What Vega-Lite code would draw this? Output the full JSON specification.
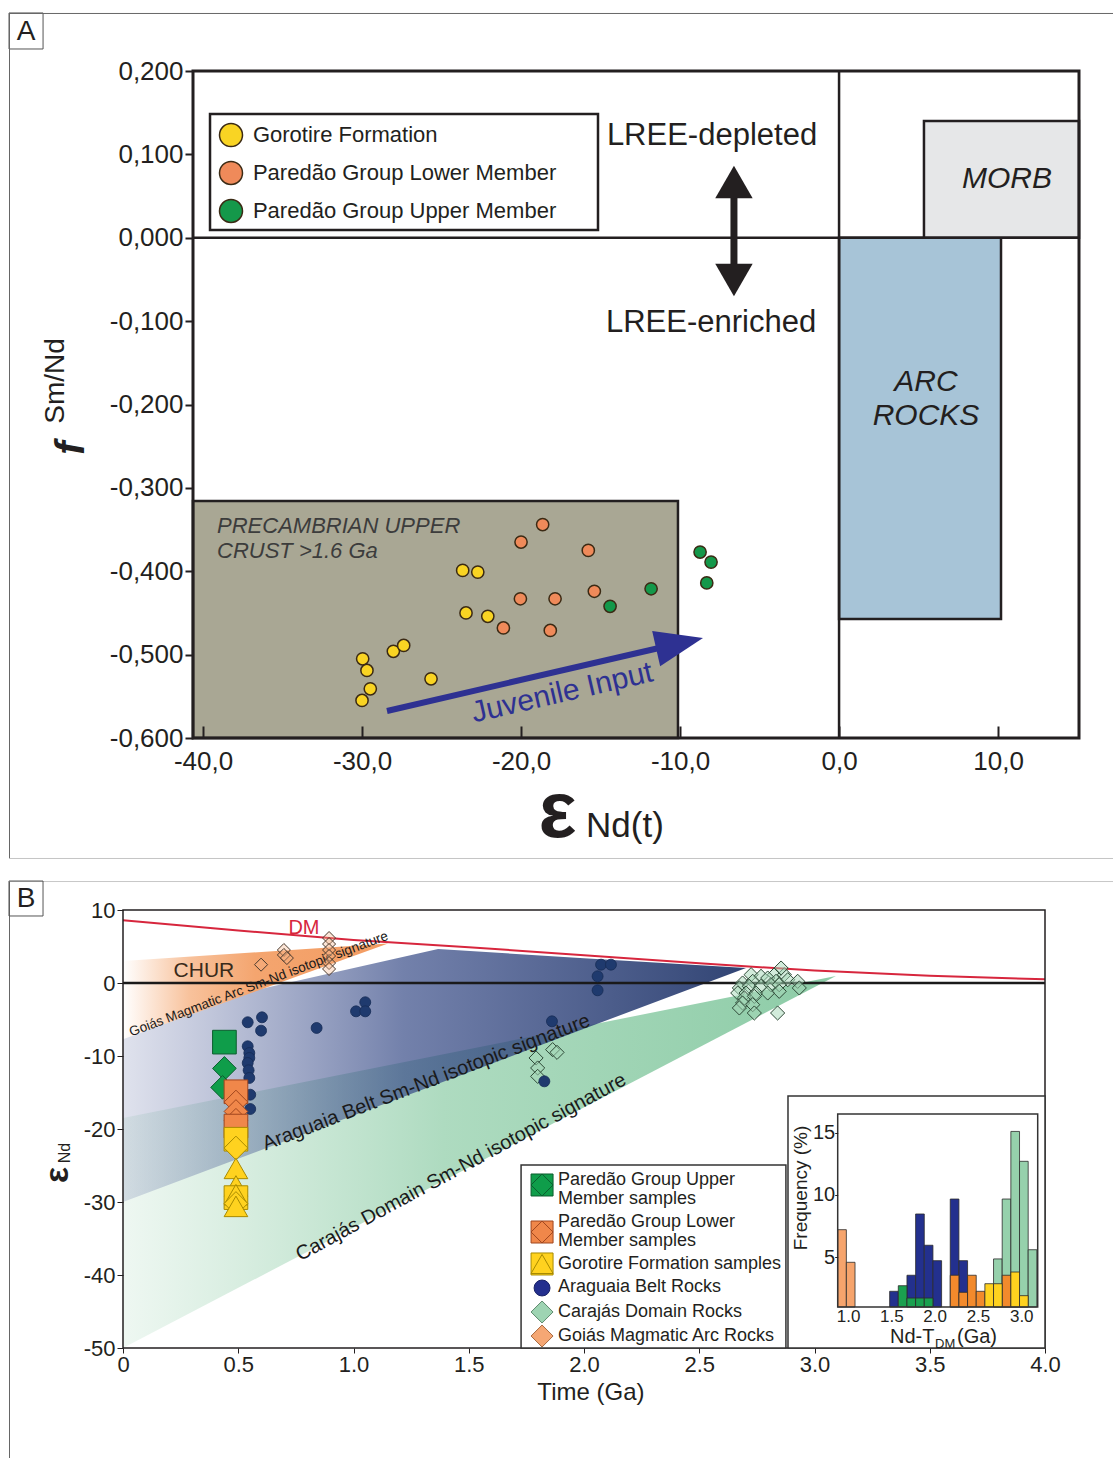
{
"$schema": "https://vega.github.io/schema/vega-lite/v6.json",
"padding": {"left": 8, "top": 12, "right": 0, "bottom": 0},
"autosize": {"type": "pad"},
"spacing": 20,
"background": "white",
"resolve": {"scale": {"color": "independent", "stroke": "independent", "shape": "independent", "fill": "independent"}},
"config": {"font": "Liberation Sans", "view": {"stroke": null}, "text": {"font": "Liberation Sans", "color": "#231F20"}, "axis": {"labelFont": "Liberation Sans", "labelFlush": false, "labelOverlap": false, "zindex": 1}},
"vconcat": [
{
"width": 1105, "height": 846,
"data": {"values": [{}]},
"layer": [
 {"mark": {"type": "rect", "fill": "#A9A794", "stroke": "#231F20", "strokeWidth": 2.5},
  "encoding": {
   "x": {"datum": -40.63, "type": "quantitative",
     "scale": {"domain": [-40.63, 15.09], "range": [184, 1070], "nice": false, "zero": false},
     "axis": {"orient": "bottom", "offset": -121, "zindex": 1, "values": [-40, -30, -20, -10, 0, 10], "domain": false, "grid": false, "tickSize": -12, "tickWidth": 2, "tickColor": "#231F20", "labelFontSize": 26, "labelColor": "#231F20", "labelPadding": 22, "labelExpr": "(datum.value < 0 ? '-' : '') + replace(format(abs(datum.value), '.1f'), '.', ',')", "title": null}},
   "x2": {"datum": -10.13},
   "y": {"datum": -0.6, "type": "quantitative",
     "scale": {"domain": [-0.6, 0.2], "range": [725, 58], "nice": false, "zero": false},
     "axis": {"orient": "left", "offset": -184, "zindex": 1, "values": [-0.6, -0.5, -0.4, -0.3, -0.2, -0.1, 0, 0.1, 0.2], "domain": false, "grid": false, "tickSize": 8, "tickWidth": 2, "tickColor": "#231F20", "labelFontSize": 26, "labelColor": "#231F20", "labelPadding": 2, "labelExpr": "(datum.value < 0 ? '-' : '') + replace(format(abs(datum.value), '.3f'), '.', ',')", "title": null}},
   "y2": {"datum": -0.3157}}},
 {"mark": {"type": "rect", "fill": "#A7C4D7", "stroke": "#231F20", "strokeWidth": 2.5},
  "encoding": {"x": {"datum": 0, "type": "quantitative"}, "x2": {"datum": 10.185}, "y": {"datum": -0.4573, "type": "quantitative"}, "y2": {"datum": 0}}},
 {"mark": {"type": "rect", "fill": "#E6E7E8", "stroke": "#231F20", "strokeWidth": 2.5},
  "encoding": {"x": {"datum": 5.34, "type": "quantitative"}, "x2": {"datum": 15.09}, "y": {"datum": 0, "type": "quantitative"}, "y2": {"datum": 0.14}}},
 {"mark": {"type": "rule", "stroke": "#231F20", "strokeWidth": 2.5},
  "encoding": {"x": {"datum": -40.63, "type": "quantitative"}, "x2": {"datum": 15.09}, "y": {"datum": 0, "type": "quantitative"}}},
 {"mark": {"type": "rule", "stroke": "#231F20", "strokeWidth": 2.5},
  "encoding": {"x": {"datum": 0, "type": "quantitative"}, "y": {"datum": -0.6, "type": "quantitative"}, "y2": {"datum": 0.2}}},
 {"mark": {"type": "rect", "filled": false, "stroke": "#231F20", "strokeWidth": 3},
  "encoding": {"x": {"datum": -40.63, "type": "quantitative"}, "x2": {"datum": 15.09}, "y": {"datum": -0.6, "type": "quantitative"}, "y2": {"datum": 0.2}}},
 {"mark": {"type": "rect", "fill": "white", "stroke": "#231F20", "strokeWidth": 2.5},
  "encoding": {"x": {"datum": -39.56, "type": "quantitative"}, "x2": {"datum": -15.16}, "y": {"datum": 0.0093, "type": "quantitative"}, "y2": {"datum": 0.1484}}},
 {"mark": {"type": "point", "shape": "circle", "filled": true, "size": 530, "fill": "#F9D423", "stroke": "#3B2A14", "strokeWidth": 1.5, "opacity": 1},
  "encoding": {"x": {"datum": -38.24, "type": "quantitative"}, "y": {"datum": 0.1232, "type": "quantitative"}}},
 {"mark": {"type": "point", "shape": "circle", "filled": true, "size": 530, "fill": "#EF8A5A", "stroke": "#3B2A14", "strokeWidth": 1.5, "opacity": 1},
  "encoding": {"x": {"datum": -38.24, "type": "quantitative"}, "y": {"datum": 0.0777, "type": "quantitative"}}},
 {"mark": {"type": "point", "shape": "circle", "filled": true, "size": 530, "fill": "#14984A", "stroke": "#3B2A14", "strokeWidth": 1.5, "opacity": 1},
  "encoding": {"x": {"datum": -38.24, "type": "quantitative"}, "y": {"datum": 0.0321, "type": "quantitative"}}},
 {"mark": {"type": "text", "text": "Gorotire Formation", "fontSize": 22, "align": "left", "baseline": "middle"},
  "encoding": {"x": {"datum": -36.86, "type": "quantitative"}, "y": {"datum": 0.1232, "type": "quantitative"}}},
 {"mark": {"type": "text", "text": "Paredão Group Lower Member", "fontSize": 22, "align": "left", "baseline": "middle"},
  "encoding": {"x": {"datum": -36.86, "type": "quantitative"}, "y": {"datum": 0.0777, "type": "quantitative"}}},
 {"mark": {"type": "text", "text": "Paredão Group Upper Member", "fontSize": 22, "align": "left", "baseline": "middle"},
  "encoding": {"x": {"datum": -36.86, "type": "quantitative"}, "y": {"datum": 0.0321, "type": "quantitative"}}},
 {"data": {"values": [
   {"eNd": -29.96, "fSmNd": -0.505, "g": "Gorotire Formation"},
   {"eNd": -29.69, "fSmNd": -0.519, "g": "Gorotire Formation"},
   {"eNd": -29.48, "fSmNd": -0.541, "g": "Gorotire Formation"},
   {"eNd": -30.0, "fSmNd": -0.555, "g": "Gorotire Formation"},
   {"eNd": -28.03, "fSmNd": -0.496, "g": "Gorotire Formation"},
   {"eNd": -27.38, "fSmNd": -0.489, "g": "Gorotire Formation"},
   {"eNd": -25.66, "fSmNd": -0.529, "g": "Gorotire Formation"},
   {"eNd": -23.67, "fSmNd": -0.399, "g": "Gorotire Formation"},
   {"eNd": -22.72, "fSmNd": -0.401, "g": "Gorotire Formation"},
   {"eNd": -23.46, "fSmNd": -0.45, "g": "Gorotire Formation"},
   {"eNd": -22.09, "fSmNd": -0.454, "g": "Gorotire Formation"},
   {"eNd": -18.64, "fSmNd": -0.344, "g": "Paredão Group Lower Member"},
   {"eNd": -20.0, "fSmNd": -0.365, "g": "Paredão Group Lower Member"},
   {"eNd": -15.77, "fSmNd": -0.375, "g": "Paredão Group Lower Member"},
   {"eNd": -20.04, "fSmNd": -0.433, "g": "Paredão Group Lower Member"},
   {"eNd": -17.86, "fSmNd": -0.433, "g": "Paredão Group Lower Member"},
   {"eNd": -15.39, "fSmNd": -0.424, "g": "Paredão Group Lower Member"},
   {"eNd": -21.11, "fSmNd": -0.468, "g": "Paredão Group Lower Member"},
   {"eNd": -18.16, "fSmNd": -0.471, "g": "Paredão Group Lower Member"},
   {"eNd": -11.82, "fSmNd": -0.421, "g": "Paredão Group Upper Member"},
   {"eNd": -14.4, "fSmNd": -0.442, "g": "Paredão Group Upper Member"},
   {"eNd": -8.74, "fSmNd": -0.377, "g": "Paredão Group Upper Member"},
   {"eNd": -8.05, "fSmNd": -0.389, "g": "Paredão Group Upper Member"},
   {"eNd": -8.32, "fSmNd": -0.414, "g": "Paredão Group Upper Member"}]},
  "mark": {"type": "point", "shape": "circle", "filled": true, "size": 150, "stroke": "#3B2A14", "strokeWidth": 1.5, "opacity": 1},
  "encoding": {
   "x": {"field": "eNd", "type": "quantitative", "title": null},
   "y": {"field": "fSmNd", "type": "quantitative", "title": null},
   "color": {"field": "g", "type": "nominal", "legend": null, "scale": {"domain": ["Gorotire Formation", "Paredão Group Lower Member", "Paredão Group Upper Member"], "range": ["#F9D423", "#EF8A5A", "#14984A"]}}}},
 {"mark": {"type": "text", "text": "LREE-depleted", "fontSize": 31, "align": "center", "baseline": "middle"},
  "encoding": {"x": {"datum": -7.99, "type": "quantitative"}, "y": {"datum": 0.122, "type": "quantitative"}}},
 {"mark": {"type": "text", "text": "LREE-enriched", "fontSize": 31, "align": "center", "baseline": "middle"},
  "encoding": {"x": {"datum": -8.05, "type": "quantitative"}, "y": {"datum": -0.1023, "type": "quantitative"}}},
 {"mark": {"type": "rule", "stroke": "#231F20", "strokeWidth": 7},
  "encoding": {"x": {"datum": -6.61, "type": "quantitative"}, "y": {"datum": 0.056, "type": "quantitative"}, "y2": {"datum": -0.04}}},
 {"mark": {"type": "point", "shape": "triangle-up", "filled": true, "size": 1400, "fill": "#231F20", "opacity": 1},
  "encoding": {"x": {"datum": -6.61, "type": "quantitative"}, "y": {"datum": 0.0669, "type": "quantitative"}}},
 {"mark": {"type": "point", "shape": "triangle-down", "filled": true, "size": 1400, "fill": "#231F20", "opacity": 1},
  "encoding": {"x": {"datum": -6.61, "type": "quantitative"}, "y": {"datum": -0.0507, "type": "quantitative"}}},
 {"mark": {"type": "text", "text": "MORB", "fontSize": 30, "fontStyle": "italic", "align": "center", "baseline": "middle"},
  "encoding": {"x": {"datum": 10.56, "type": "quantitative"}, "y": {"datum": 0.0705, "type": "quantitative"}}},
 {"mark": {"type": "text", "text": "ARC", "fontSize": 30, "fontStyle": "italic", "align": "center", "baseline": "middle"},
  "encoding": {"x": {"datum": 5.47, "type": "quantitative"}, "y": {"datum": -0.173, "type": "quantitative"}}},
 {"mark": {"type": "text", "text": "ROCKS", "fontSize": 30, "fontStyle": "italic", "align": "center", "baseline": "middle"},
  "encoding": {"x": {"datum": 5.47, "type": "quantitative"}, "y": {"datum": -0.2138, "type": "quantitative"}}},
 {"mark": {"type": "text", "text": "PRECAMBRIAN UPPER", "fontSize": 22, "fontStyle": "italic", "align": "left", "baseline": "middle", "color": "#3C3C3C"},
  "encoding": {"x": {"datum": -39.12, "type": "quantitative"}, "y": {"datum": -0.3457, "type": "quantitative"}}},
 {"mark": {"type": "text", "text": "CRUST >1.6 Ga", "fontSize": 22, "fontStyle": "italic", "align": "left", "baseline": "middle", "color": "#3C3C3C"},
  "encoding": {"x": {"datum": -39.12, "type": "quantitative"}, "y": {"datum": -0.3757, "type": "quantitative"}}},
 {"mark": {"type": "rule", "stroke": "#2E3192", "strokeWidth": 6},
  "encoding": {"x": {"datum": -28.43, "type": "quantitative"}, "y": {"datum": -0.5676, "type": "quantitative"}, "x2": {"datum": -11.32}, "y2": {"datum": -0.492}}},
 {"mark": {"type": "point", "shape": "M1,0L-1,-0.75L-1,0.75Z", "filled": true, "size": 2304, "angle": 347.2, "fill": "#2E3192", "opacity": 1},
  "encoding": {"x": {"datum": -10.03, "type": "quantitative"}, "y": {"datum": -0.4864, "type": "quantitative"}}},
 {"mark": {"type": "text", "text": "Juvenile Input", "fontSize": 30, "angle": 347, "align": "center", "baseline": "middle", "color": "#2E3192"},
  "encoding": {"x": {"datum": -17.42, "type": "quantitative"}, "y": {"datum": -0.546, "type": "quantitative"}}},
 {"mark": {"type": "text", "text": "Sm/Nd", "fontSize": 28, "angle": 270, "align": "center", "baseline": "middle"},
  "encoding": {"x": {"datum": -49.25, "type": "quantitative"}, "y": {"datum": -0.1718, "type": "quantitative"}}},
 {"mark": {"type": "text", "text": "f", "fontSize": 40, "fontWeight": "bold", "fontStyle": "italic", "angle": 270, "align": "center", "baseline": "middle"},
  "encoding": {"x": {"datum": -48.24, "type": "quantitative"}, "y": {"datum": -0.2522, "type": "quantitative"}}},
 {"mark": {"type": "text", "text": "ε", "fontSize": 80, "fontWeight": "bold", "align": "center", "baseline": "alphabetic"},
  "encoding": {"x": {"datum": -17.71, "type": "quantitative"}, "y": {"datum": -0.7187, "type": "quantitative"}}},
 {"mark": {"type": "text", "text": "Nd(t)", "fontSize": 35, "align": "left", "baseline": "alphabetic"},
  "encoding": {"x": {"datum": -15.91, "type": "quantitative"}, "y": {"datum": -0.7187, "type": "quantitative"}}},
 {"mark": {"type": "rect", "filled": false, "stroke": "#555555", "strokeWidth": 1},
  "encoding": {"x": {"datum": -52.2, "type": "quantitative"}, "x2": {"datum": -50.06}, "y": {"datum": 0.2264, "type": "quantitative"}, "y2": {"datum": 0.2696}}},
 {"mark": {"type": "text", "text": "A", "fontSize": 28, "align": "center", "baseline": "middle"},
  "encoding": {"x": {"datum": -51.13, "type": "quantitative"}, "y": {"datum": 0.2468, "type": "quantitative"}}},
 {"mark": {"type": "rule", "stroke": "#666666", "strokeWidth": 1},
  "encoding": {"x": {"datum": -52.17, "type": "quantitative"}, "y": {"datum": 0.2696, "type": "quantitative"}, "y2": {"datum": -0.7451}}},
 {"mark": {"type": "rule", "stroke": "#666666", "strokeWidth": 1},
  "encoding": {"x": {"datum": -52.2, "type": "quantitative"}, "x2": {"datum": 17.3}, "y": {"datum": 0.269, "type": "quantitative"}}},
 {"mark": {"type": "rule", "stroke": "#C4C4C4", "strokeWidth": 1},
  "encoding": {"x": {"datum": -52.2, "type": "quantitative"}, "x2": {"datum": 17.3}, "y": {"datum": -0.7445, "type": "quantitative"}}}
]
},
{
"width": 1105, "height": 580,
"data": {"values": [{}]},
"resolve": {"scale": {"x": "independent", "y": "independent"}, "axis": {"x": "independent", "y": "independent"}},
"layer": [
 {"layer": [
  {"data": {"values": [{"t": 0, "hi": -18.5, "lo": -50}, {"t": 3.093, "hi": 0.96, "lo": 0.96}]},
   "mark": {"type": "area", "fill": {"gradient": "linear", "x1": 0, "y1": 0, "x2": 1, "y2": 0, "stops": [{"offset": 0, "color": "rgba(90,180,125,0.10)"}, {"offset": 0.45, "color": "rgba(75,175,115,0.45)"}, {"offset": 1, "color": "rgba(70,172,112,0.62)"}]}},
   "encoding": {
    "x": {"field": "t", "type": "quantitative", "title": null,
      "scale": {"domain": [0, 4], "range": [114, 1036], "nice": false, "zero": false},
      "axis": {"orient": "bottom", "offset": -113, "zindex": 1, "values": [0, 0.5, 1, 1.5, 2, 2.5, 3, 3.5, 4], "domain": false, "grid": false, "tickSize": 5, "tickColor": "#231F20", "labelFontSize": 22, "labelColor": "#231F20", "labelPadding": 1, "labelExpr": "datum.value == 0 ? '0' : format(datum.value, '.1f')", "title": null}},
    "y": {"field": "hi", "type": "quantitative", "title": null,
      "scale": {"domain": [-50, 10], "range": [467, 29], "nice": false, "zero": false},
      "axis": {"orient": "left", "offset": -114, "zindex": 1, "values": [-50, -40, -30, -20, -10, 0, 10], "domain": false, "grid": false, "tickSize": 6, "tickColor": "#231F20", "labelFontSize": 22, "labelColor": "#231F20", "labelPadding": 2, "labelExpr": "(datum.value < 0 ? '-' : '') + format(abs(datum.value), 'd')", "title": null}},
    "y2": {"field": "lo"}}},
  {"data": {"values": [{"t": 0, "hi": -5.1, "lo": -30}, {"t": 1.367, "hi": 4.66, "lo": -13.79}, {"t": 2.0, "hi": 3.4, "lo": -6.28}, {"t": 2.703, "hi": 2.05, "lo": 2.05}]},
   "mark": {"type": "area", "fill": {"gradient": "linear", "x1": 0, "y1": 0, "x2": 1, "y2": 0, "stops": [{"offset": 0, "color": "rgba(80,95,155,0.18)"}, {"offset": 0.45, "color": "rgba(55,75,135,0.7)"}, {"offset": 1, "color": "rgba(38,58,108,0.95)"}]}},
   "encoding": {"x": {"field": "t", "type": "quantitative", "title": null}, "y": {"field": "hi", "type": "quantitative", "title": null}, "y2": {"field": "lo"}}},
  {"data": {"values": [{"t": 0, "hi": 3.0, "lo": -7.7}, {"t": 1.15, "hi": 5.4, "lo": 5.4}]},
   "mark": {"type": "area", "fill": {"gradient": "linear", "x1": 0, "y1": 0, "x2": 1, "y2": 0, "stops": [{"offset": 0, "color": "#FFFFFF"}, {"offset": 0.25, "color": "#F8C29C"}, {"offset": 0.5, "color": "#F4A56F"}, {"offset": 1, "color": "#F39C62"}]}},
   "encoding": {"x": {"field": "t", "type": "quantitative", "title": null}, "y": {"field": "hi", "type": "quantitative", "title": null}, "y2": {"field": "lo"}}},
  {"data": {"values": [{"t": 0, "e": 8.6}, {"t": 0.5, "e": 7.2}, {"t": 1.0, "e": 5.9}, {"t": 1.5, "e": 4.9}, {"t": 2.0, "e": 3.8}, {"t": 2.5, "e": 2.7}, {"t": 3.0, "e": 1.7}, {"t": 3.5, "e": 1.0}, {"t": 4.0, "e": 0.5}]},
   "mark": {"type": "line", "stroke": "#D7263D", "strokeWidth": 2},
   "encoding": {"x": {"field": "t", "type": "quantitative", "title": null}, "y": {"field": "e", "type": "quantitative", "title": null}}},
  {"mark": {"type": "rule", "stroke": "#1A1A1A", "strokeWidth": 2.5},
   "encoding": {"x": {"datum": 0, "type": "quantitative"}, "x2": {"datum": 4}, "y": {"datum": 0, "type": "quantitative"}}},
  {"mark": {"type": "rect", "filled": false, "stroke": "#231F20", "strokeWidth": 1.5},
   "encoding": {"x": {"datum": 0, "type": "quantitative"}, "x2": {"datum": 4}, "y": {"datum": -50, "type": "quantitative"}, "y2": {"datum": 10}}},
  {"mark": {"type": "text", "text": "Goiás Magmatic Arc Sm-Nd isotopic signature", "fontSize": 13.5, "angle": 339.3, "align": "center", "baseline": "alphabetic", "color": "#1A1A1A"},
   "encoding": {"x": {"datum": 0.595, "type": "quantitative"}, "y": {"datum": -0.67, "type": "quantitative"}}},
  {"mark": {"type": "text", "text": "Araguaia Belt Sm-Nd isotopic signature", "fontSize": 20, "angle": 339, "align": "center", "baseline": "alphabetic", "color": "#1A1A1A"},
   "encoding": {"x": {"datum": 1.325, "type": "quantitative"}, "y": {"datum": -14.38, "type": "quantitative"}}},
  {"mark": {"type": "text", "text": "Carajás Domain Sm-Nd isotopic signature", "fontSize": 20, "angle": 331.5, "align": "center", "baseline": "alphabetic", "color": "#1A1A1A"},
   "encoding": {"x": {"datum": 1.479, "type": "quantitative"}, "y": {"datum": -25.96, "type": "quantitative"}}},
  {"mark": {"type": "text", "text": "DM", "fontSize": 20, "align": "center", "baseline": "middle", "color": "#D7263D"},
   "encoding": {"x": {"datum": 0.785, "type": "quantitative"}, "y": {"datum": 7.53, "type": "quantitative"}}},
  {"mark": {"type": "text", "text": "CHUR", "fontSize": 21, "align": "center", "baseline": "middle", "color": "#3A2A1A"},
   "encoding": {"x": {"datum": 0.351, "type": "quantitative"}, "y": {"datum": 1.64, "type": "quantitative"}}},
  {"data": {"values": [{"t": 0.599, "e": 2.51}, {"t": 0.698, "e": 4.52}, {"t": 0.698, "e": 3.84}, {"t": 0.711, "e": 3.42}, {"t": 0.894, "e": 6.16}, {"t": 0.894, "e": 5.34}, {"t": 0.894, "e": 4.52}, {"t": 0.894, "e": 3.7}, {"t": 0.894, "e": 2.74}, {"t": 0.894, "e": 1.92}]},
   "mark": {"type": "point", "shape": "diamond", "filled": true, "size": 170, "fill": "#F7B48A", "fillOpacity": 0.35, "stroke": "#4A3A2E", "strokeWidth": 1, "opacity": 1},
   "encoding": {"x": {"field": "t", "type": "quantitative", "title": null}, "y": {"field": "e", "type": "quantitative", "title": null}}},
  {"data": {"values": [
    {"t": 2.725, "e": 1.14}, {"t": 2.768, "e": 0.91}, {"t": 2.826, "e": 1.14}, {"t": 2.869, "e": 1.14}, {"t": 2.688, "e": 0},
    {"t": 2.732, "e": 0.23}, {"t": 2.797, "e": 0.68}, {"t": 2.833, "e": 0.23}, {"t": 2.884, "e": 0.45}, {"t": 2.927, "e": 0.23},
    {"t": 2.674, "e": -0.68}, {"t": 2.717, "e": -0.45}, {"t": 2.768, "e": -0.45}, {"t": 2.811, "e": -0.23}, {"t": 2.847, "e": -0.23},
    {"t": 2.934, "e": -0.68}, {"t": 2.667, "e": -1.37}, {"t": 2.703, "e": -1.37}, {"t": 2.746, "e": -1.37}, {"t": 2.797, "e": -1.37},
    {"t": 2.847, "e": -1.14}, {"t": 2.696, "e": -2.05}, {"t": 2.739, "e": -1.83}, {"t": 2.688, "e": -2.74}, {"t": 2.732, "e": -2.97},
    {"t": 2.674, "e": -3.42}, {"t": 2.739, "e": -4.11}, {"t": 2.84, "e": -4.11}, {"t": 2.855, "e": 2.05},
    {"t": 1.792, "e": -10.27}, {"t": 1.799, "e": -11.64}, {"t": 1.799, "e": -12.79}, {"t": 1.864, "e": -9.13}, {"t": 1.883, "e": -9.5}]},
   "mark": {"type": "point", "shape": "diamond", "filled": true, "size": 200, "fill": "#A5D8B8", "fillOpacity": 0.5, "stroke": "#2F4A38", "strokeWidth": 1, "opacity": 1},
   "encoding": {"x": {"field": "t", "type": "quantitative", "title": null}, "y": {"field": "e", "type": "quantitative", "title": null}}},
  {"data": {"values": [
    {"t": 0.541, "e": -5.38}, {"t": 0.603, "e": -4.7}, {"t": 0.599, "e": -6.53}, {"t": 0.541, "e": -8.67}, {"t": 0.548, "e": -9.59},
    {"t": 0.548, "e": -10.27}, {"t": 0.541, "e": -10.96}, {"t": 0.545, "e": -11.96}, {"t": 0.548, "e": -13.01}, {"t": 0.552, "e": -15.3},
    {"t": 0.552, "e": -17.26}, {"t": 0.84, "e": -6.16}, {"t": 1.011, "e": -3.88}, {"t": 1.051, "e": -2.64}, {"t": 1.051, "e": -3.88},
    {"t": 2.074, "e": 2.51}, {"t": 2.117, "e": 2.51}, {"t": 2.059, "e": 0.92}, {"t": 2.059, "e": -1.0}, {"t": 1.861, "e": -5.25}, {"t": 1.828, "e": -13.47}]},
   "mark": {"type": "point", "shape": "circle", "filled": true, "size": 120, "fill": "#1F3A6E", "stroke": "#172C55", "strokeWidth": 0.8, "opacity": 1},
   "encoding": {"x": {"field": "t", "type": "quantitative", "title": null}, "y": {"field": "e", "type": "quantitative", "title": null}}},
  {"data": {"values": [
    {"t": 0.44, "e": -8.1, "g": "Upper", "s": "square"}, {"t": 0.44, "e": -11.7, "g": "Upper", "s": "diamond"}, {"t": 0.432, "e": -14.3, "g": "Upper", "s": "diamond"},
    {"t": 0.49, "e": -14.9, "g": "Lower", "s": "square"}, {"t": 0.49, "e": -16.3, "g": "Lower", "s": "diamond"}, {"t": 0.49, "e": -17.6, "g": "Lower", "s": "diamond"},
    {"t": 0.49, "e": -18.8, "g": "Lower", "s": "diamond"}, {"t": 0.49, "e": -19.6, "g": "Lower", "s": "square"},
    {"t": 0.49, "e": -21.4, "g": "Gorotire", "s": "square"}, {"t": 0.49, "e": -22.6, "g": "Gorotire", "s": "diamond"}, {"t": 0.49, "e": -25.4, "g": "Gorotire", "s": "triangle-up"},
    {"t": 0.49, "e": -27.8, "g": "Gorotire", "s": "triangle-up"}, {"t": 0.49, "e": -29.4, "g": "Gorotire", "s": "square"}, {"t": 0.49, "e": -29.0, "g": "Gorotire", "s": "triangle-up"},
    {"t": 0.49, "e": -30.2, "g": "Gorotire", "s": "diamond"}, {"t": 0.49, "e": -30.6, "g": "Gorotire", "s": "triangle-up"}]},
   "mark": {"type": "point", "filled": true, "size": 560, "strokeWidth": 1, "opacity": 1},
   "encoding": {
    "x": {"field": "t", "type": "quantitative", "title": null},
    "y": {"field": "e", "type": "quantitative", "title": null},
    "color": {"field": "g", "type": "nominal", "legend": null, "scale": {"domain": ["Upper", "Lower", "Gorotire"], "range": ["#0F9D4A", "#F0874A", "#FFD21F"]}},
    "stroke": {"field": "g", "type": "nominal", "legend": null, "scale": {"domain": ["Upper", "Lower", "Gorotire"], "range": ["#0B5E2E", "#A0461E", "#A88A00"]}},
    "shape": {"field": "s", "type": "nominal", "legend": null, "scale": {"domain": ["square", "diamond", "triangle-up"], "range": ["square", "diamond", "triangle-up"]}}}},
  {"mark": {"type": "rect", "fill": "white", "stroke": "#333333", "strokeWidth": 1.5},
   "encoding": {"x": {"datum": 1.727, "type": "quantitative"}, "x2": {"datum": 2.876}, "y": {"datum": -50, "type": "quantitative"}, "y2": {"datum": -24.93}}},
  {"mark": {"type": "point", "shape": "square", "filled": true, "size": 484, "fill": "#0F9D4A", "stroke": "#0B5E2E", "strokeWidth": 1, "opacity": 1},
   "encoding": {"x": {"datum": 1.818, "type": "quantitative"}, "y": {"datum": -27.67, "type": "quantitative"}}},
  {"mark": {"type": "point", "shape": "diamond", "filled": true, "size": 484, "fill": "#0F9D4A", "stroke": "#0B5E2E", "strokeWidth": 1, "opacity": 1},
   "encoding": {"x": {"datum": 1.818, "type": "quantitative"}, "y": {"datum": -27.67, "type": "quantitative"}}},
  {"mark": {"type": "point", "shape": "square", "filled": true, "size": 484, "fill": "#F0874A", "stroke": "#A0461E", "strokeWidth": 1, "opacity": 1},
   "encoding": {"x": {"datum": 1.818, "type": "quantitative"}, "y": {"datum": -34.11, "type": "quantitative"}}},
  {"mark": {"type": "point", "shape": "diamond", "filled": true, "size": 484, "fill": "#F0874A", "stroke": "#A0461E", "strokeWidth": 1, "opacity": 1},
   "encoding": {"x": {"datum": 1.818, "type": "quantitative"}, "y": {"datum": -34.11, "type": "quantitative"}}},
  {"mark": {"type": "point", "shape": "square", "filled": true, "size": 484, "fill": "#FFD21F", "stroke": "#A88A00", "strokeWidth": 1, "opacity": 1},
   "encoding": {"x": {"datum": 1.818, "type": "quantitative"}, "y": {"datum": -38.49, "type": "quantitative"}}},
  {"mark": {"type": "point", "shape": "triangle-up", "filled": true, "size": 484, "fill": "#FFD21F", "stroke": "#A88A00", "strokeWidth": 1, "opacity": 1},
   "encoding": {"x": {"datum": 1.818, "type": "quantitative"}, "y": {"datum": -38.49, "type": "quantitative"}}},
  {"mark": {"type": "point", "shape": "circle", "filled": true, "size": 254, "fill": "#232F8E", "stroke": "#1A2366", "strokeWidth": 1, "opacity": 1},
   "encoding": {"x": {"datum": 1.818, "type": "quantitative"}, "y": {"datum": -41.78, "type": "quantitative"}}},
  {"mark": {"type": "point", "shape": "diamond", "filled": true, "size": 484, "fill": "#9ED4B3", "stroke": "#5E8A6E", "strokeWidth": 1, "opacity": 1},
   "encoding": {"x": {"datum": 1.818, "type": "quantitative"}, "y": {"datum": -45.07, "type": "quantitative"}}},
  {"mark": {"type": "point", "shape": "diamond", "filled": true, "size": 484, "fill": "#F5A774", "stroke": "#A86A40", "strokeWidth": 1, "opacity": 1},
   "encoding": {"x": {"datum": 1.818, "type": "quantitative"}, "y": {"datum": -48.36, "type": "quantitative"}}},
  {"mark": {"type": "text", "text": "Paredão Group Upper", "fontSize": 18, "align": "left", "baseline": "middle"},
   "encoding": {"x": {"datum": 1.887, "type": "quantitative"}, "y": {"datum": -26.95, "type": "quantitative"}}},
  {"mark": {"type": "text", "text": "Member samples", "fontSize": 18, "align": "left", "baseline": "middle"},
   "encoding": {"x": {"datum": 1.887, "type": "quantitative"}, "y": {"datum": -29.59, "type": "quantitative"}}},
  {"mark": {"type": "text", "text": "Paredão Group Lower", "fontSize": 18, "align": "left", "baseline": "middle"},
   "encoding": {"x": {"datum": 1.887, "type": "quantitative"}, "y": {"datum": -32.74, "type": "quantitative"}}},
  {"mark": {"type": "text", "text": "Member samples", "fontSize": 18, "align": "left", "baseline": "middle"},
   "encoding": {"x": {"datum": 1.887, "type": "quantitative"}, "y": {"datum": -35.34, "type": "quantitative"}}},
  {"mark": {"type": "text", "text": "Gorotire Formation samples", "fontSize": 18, "align": "left", "baseline": "middle"},
   "encoding": {"x": {"datum": 1.887, "type": "quantitative"}, "y": {"datum": -38.49, "type": "quantitative"}}},
  {"mark": {"type": "text", "text": "Araguaia Belt Rocks", "fontSize": 18, "align": "left", "baseline": "middle"},
   "encoding": {"x": {"datum": 1.887, "type": "quantitative"}, "y": {"datum": -41.64, "type": "quantitative"}}},
  {"mark": {"type": "text", "text": "Carajás Domain Rocks", "fontSize": 18, "align": "left", "baseline": "middle"},
   "encoding": {"x": {"datum": 1.887, "type": "quantitative"}, "y": {"datum": -45.07, "type": "quantitative"}}},
  {"mark": {"type": "text", "text": "Goiás Magmatic Arc Rocks", "fontSize": 18, "align": "left", "baseline": "middle"},
   "encoding": {"x": {"datum": 1.887, "type": "quantitative"}, "y": {"datum": -48.36, "type": "quantitative"}}},
  {"mark": {"type": "rect", "fill": "white", "stroke": "#333333", "strokeWidth": 1.5},
   "encoding": {"x": {"datum": 2.885, "type": "quantitative"}, "x2": {"datum": 4}, "y": {"datum": -50, "type": "quantitative"}, "y2": {"datum": -15.48}}},
  {"mark": {"type": "rule", "stroke": "#666666", "strokeWidth": 1},
   "encoding": {"x": {"datum": -0.4924, "type": "quantitative"}, "y": {"datum": 13.97, "type": "quantitative"}, "y2": {"datum": -65.5}}},
  {"mark": {"type": "rule", "stroke": "#C8C8C8", "strokeWidth": 1},
   "encoding": {"x": {"datum": -0.4946, "type": "quantitative"}, "x2": {"datum": 4.3}, "y": {"datum": 13.9, "type": "quantitative"}}},
  {"mark": {"type": "rect", "filled": false, "stroke": "#555555", "strokeWidth": 1},
   "encoding": {"x": {"datum": -0.4946, "type": "quantitative"}, "x2": {"datum": -0.347}, "y": {"datum": 9.18, "type": "quantitative"}, "y2": {"datum": 13.97}}},
  {"mark": {"type": "text", "text": "B", "fontSize": 28, "align": "center", "baseline": "middle"},
   "encoding": {"x": {"datum": -0.4208, "type": "quantitative"}, "y": {"datum": 11.51, "type": "quantitative"}}},
  {"mark": {"type": "text", "text": "Time (Ga)", "fontSize": 24, "align": "center", "baseline": "middle"},
   "encoding": {"x": {"datum": 2.03, "type": "quantitative"}, "y": {"datum": -56.16, "type": "quantitative"}}},
  {"mark": {"type": "text", "text": "ε", "fontSize": 34, "fontWeight": "bold", "angle": 270, "align": "center", "baseline": "middle"},
   "encoding": {"x": {"datum": -0.282, "type": "quantitative"}, "y": {"datum": -26.3, "type": "quantitative"}}},
  {"mark": {"type": "text", "text": "Nd", "fontSize": 16, "angle": 270, "align": "center", "baseline": "middle"},
   "encoding": {"x": {"datum": -0.2516, "type": "quantitative"}, "y": {"datum": -23.29, "type": "quantitative"}}}
 ]},
 {"layer": [
  {"data": {"values": [
    {"s": 2.68, "e": 2.78, "f": 4.86, "g": "Carajás"}, {"s": 2.78, "e": 2.88, "f": 9.67, "g": "Carajás"}, {"s": 2.88, "e": 2.98, "f": 15.1, "g": "Carajás"}, {"s": 2.98, "e": 3.08, "f": 12.7, "g": "Carajás"}, {"s": 3.08, "e": 3.18, "f": 5.6, "g": "Carajás"},
    {"s": 1.48, "e": 1.58, "f": 2.26, "g": "Araguaia"}, {"s": 1.68, "e": 1.78, "f": 3.55, "g": "Araguaia"}, {"s": 1.78, "e": 1.88, "f": 8.47, "g": "Araguaia"}, {"s": 1.88, "e": 1.98, "f": 5.96, "g": "Araguaia"}, {"s": 1.98, "e": 2.08, "f": 4.72, "g": "Araguaia"}, {"s": 2.18, "e": 2.28, "f": 9.67, "g": "Araguaia"}, {"s": 2.28, "e": 2.38, "f": 4.72, "g": "Araguaia"},
    {"s": 1.58, "e": 1.68, "f": 2.71, "g": "Upper"}, {"s": 1.68, "e": 1.78, "f": 1.72, "g": "Upper"}, {"s": 1.78, "e": 1.88, "f": 1.72, "g": "Upper"}, {"s": 1.88, "e": 1.98, "f": 1.72, "g": "Upper"},
    {"s": 2.18, "e": 2.28, "f": 3.55, "g": "Lower"}, {"s": 2.28, "e": 2.38, "f": 2.18, "g": "Lower"}, {"s": 2.38, "e": 2.48, "f": 3.55, "g": "Lower"}, {"s": 2.48, "e": 2.58, "f": 2.26, "g": "Lower"}, {"s": 2.78, "e": 2.88, "f": 3.55, "g": "Lower"},
    {"s": 2.58, "e": 2.68, "f": 2.87, "g": "Gorotire"}, {"s": 2.68, "e": 2.78, "f": 2.87, "g": "Gorotire"}, {"s": 2.88, "e": 2.98, "f": 3.81, "g": "Gorotire"}, {"s": 2.98, "e": 3.08, "f": 1.91, "g": "Gorotire"},
    {"s": 0.88, "e": 0.98, "f": 7.21, "g": "Goiás"}, {"s": 0.98, "e": 1.08, "f": 4.59, "g": "Goiás"}]},
   "mark": {"type": "rect", "stroke": "#2B2B2B", "strokeWidth": 0.8},
   "encoding": {
    "x": {"field": "s", "type": "quantitative", "title": null,
      "scale": {"domain": [0.88, 3.19], "range": [828.7, 1028.7], "nice": false, "zero": false},
      "axis": {"orient": "bottom", "offset": -154, "zindex": 2, "values": [1, 1.5, 2, 2.5, 3], "format": ".1f", "domain": false, "grid": false, "ticks": false, "labelFontSize": 17, "labelColor": "#231F20", "labelPadding": 1, "title": null}},
    "x2": {"field": "e"},
    "y": {"field": "f", "type": "quantitative", "title": null,
      "scale": {"domain": [1, 16.5], "range": [426, 233], "nice": false, "zero": false},
      "axis": {"orient": "left", "offset": -828.7, "zindex": 2, "values": [5, 10, 15], "domain": false, "grid": false, "tickSize": 3, "tickColor": "#231F20", "labelFontSize": 20, "labelColor": "#231F20", "labelPadding": 0, "title": null}},
    "y2": {"datum": 1},
    "fill": {"field": "g", "type": "nominal", "legend": null, "scale": {"domain": ["Carajás", "Araguaia", "Upper", "Lower", "Gorotire", "Goiás"], "range": ["#96D1AC", "#23308E", "#1AA04F", "#F28A2C", "#FFD21F", "#F6A46C"]}}}},
  {"mark": {"type": "rect", "filled": false, "stroke": "#333333", "strokeWidth": 1.5},
   "encoding": {"x": {"datum": 0.88, "type": "quantitative"}, "x2": {"datum": 3.19}, "y": {"datum": 1, "type": "quantitative"}, "y2": {"datum": 16.5}}},
  {"mark": {"type": "text", "text": "Frequency (%)", "fontSize": 19, "angle": 270, "align": "center", "baseline": "middle"},
   "encoding": {"x": {"datum": 0.456, "type": "quantitative"}, "y": {"datum": 10.56, "type": "quantitative"}}},
  {"mark": {"type": "text", "text": "Nd-T", "fontSize": 20, "align": "left", "baseline": "alphabetic"},
   "encoding": {"x": {"datum": 1.484, "type": "quantitative"}, "y": {"datum": -1.89, "type": "quantitative"}}},
  {"mark": {"type": "text", "text": "DM", "fontSize": 13, "align": "left", "baseline": "alphabetic"},
   "encoding": {"x": {"datum": 2.004, "type": "quantitative"}, "y": {"datum": -2.29, "type": "quantitative"}}},
  {"mark": {"type": "text", "text": "(Ga)", "fontSize": 20, "align": "left", "baseline": "alphabetic"},
   "encoding": {"x": {"datum": 2.258, "type": "quantitative"}, "y": {"datum": -1.89, "type": "quantitative"}}}
 ]}
]
}
]
}
